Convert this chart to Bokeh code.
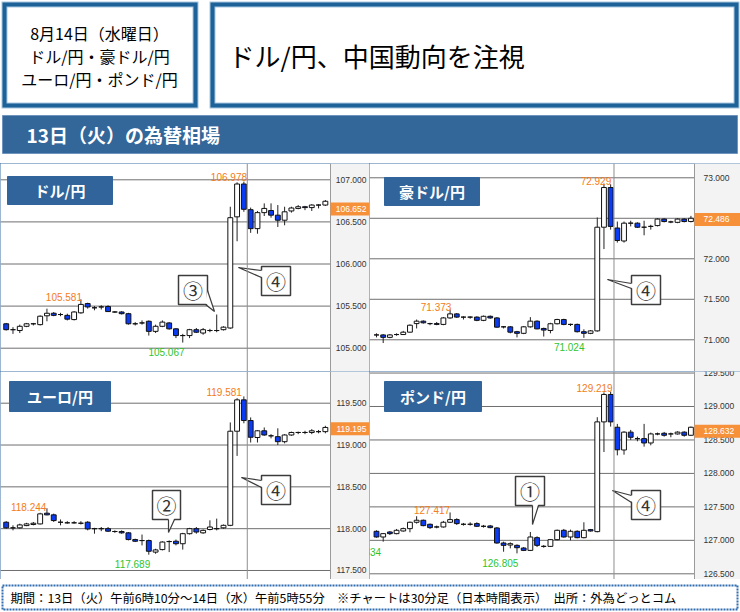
from bokeh.plotting import figure
from bokeh.models import Range1d, Span, ColumnDataSource
from bokeh.layouts import column, row
from bokeh.embed import file_html
from bokeh.resources import INLINE
from bokeh.core.properties import value

JP = "Noto Sans CJK JP"
NUM = "Liberation Sans"
BLUE = "#0b3bf2"
NAVY = "#336699"
ORANGE = "#f6913a"

# ---------------- texts ----------------
header_lines = ["8月14日（水曜日）", "ドル/円・豪ドル/円", "ユーロ/円・ポンド/円"]
headline = "ドル/円、中国動向を注視"
section_title = "13日（火）の為替相場"
footer_text = "期間：13日（火）午前6時10分～14日（水）午前5時55分　※チャートは30分足（日本時間表示）　出所：外為どっとコム"
pair_names = ["ドル/円", "豪ドル/円", "ユーロ/円", "ポンド/円"]

# ---------------- data: 30-minute candles, 13日 6:00 -> 14日 5:30 ----------------
usd_o = [105.29, 105.22, 105.21, 105.26, 105.29, 105.28, 105.385, 105.415, 105.40, 105.39,
         105.34, 105.42, 105.53, 105.48, 105.49, 105.495, 105.43, 105.43, 105.41, 105.29,
         105.30, 105.32, 105.20, 105.26, 105.30, 105.23, 105.15, 105.15, 105.22, 105.18,
         105.21, 105.21, 105.22, 105.24, 106.56, 106.95, 106.645, 106.42, 106.61, 106.635,
         106.58, 106.52, 106.63, 106.66, 106.68, 106.67, 106.70, 106.70]
usd_h = [105.30, 105.25, 105.28, 105.30, 105.30, 105.39, 105.47, 105.43, 105.42, 105.41,
         105.44, 105.581, 105.54, 105.50, 105.51, 105.51, 105.44, 105.44, 105.42, 105.31,
         105.33, 105.33, 105.28, 105.33, 105.31, 105.24, 105.17, 105.23, 105.24, 105.24,
         105.23, 105.40, 105.26, 106.68, 106.97, 106.978, 106.67, 106.63, 106.72, 106.72,
         106.70, 106.68, 106.68, 106.70, 106.69, 106.71, 106.71, 106.76]
usd_l = [105.21, 105.17, 105.18, 105.25, 105.27, 105.27, 105.32, 105.38, 105.38, 105.33,
         105.33, 105.41, 105.47, 105.45, 105.46, 105.43, 105.42, 105.40, 105.28, 105.27,
         105.28, 105.15, 105.18, 105.25, 105.22, 105.12, 105.067, 105.12, 105.18, 105.16,
         105.19, 105.19, 105.21, 105.23, 106.27, 106.62, 106.37, 106.36, 106.57, 106.55,
         106.44, 106.46, 106.61, 106.65, 106.64, 106.63, 106.66, 106.69]
usd_c = [105.22, 105.22, 105.26, 105.29, 105.29, 105.38, 105.415, 105.39, 105.40, 105.345,
         105.43, 105.52, 105.49, 105.48, 105.49, 105.435, 105.43, 105.41, 105.29, 105.29,
         105.30, 105.20, 105.26, 105.31, 105.23, 105.15, 105.15, 105.22, 105.19, 105.22,
         105.21, 105.21, 105.25, 106.55, 106.95, 106.65, 106.42, 106.61, 106.66, 106.58,
         106.52, 106.62, 106.665, 106.68, 106.67, 106.70, 106.70, 106.745]

aud_o = [71.06, 71.06, 71.03, 71.065, 71.065, 71.094, 71.20, 71.23, 71.20, 71.20,
         71.19, 71.27, 71.32, 71.28, 71.28, 71.28, 71.24, 71.29, 71.27, 71.16,
         71.16, 71.10, 71.08, 71.16, 71.23, 71.14, 71.115, 71.198, 71.25, 71.19,
         71.19, 71.10, 71.08, 71.11, 72.39, 72.88, 72.38, 72.22, 72.44, 72.44,
         72.39, 72.40, 72.41, 72.49, 72.455, 72.45, 72.49, 72.46]
aud_h = [71.08, 71.07, 71.07, 71.08, 71.11, 71.19, 71.25, 71.24, 71.21, 71.22,
         71.28, 71.373, 71.33, 71.29, 71.29, 71.29, 71.30, 71.30, 71.28, 71.17,
         71.17, 71.11, 71.17, 71.28, 71.24, 71.15, 71.21, 71.26, 71.26, 71.20,
         71.20, 71.13, 71.12, 72.51, 72.929, 72.92, 72.46, 72.46, 72.47, 72.45,
         72.47, 72.42, 72.50, 72.50, 72.47, 72.50, 72.50, 72.53]
aud_l = [71.03, 70.96, 71.02, 71.05, 71.06, 71.09, 71.14, 71.20, 71.18, 71.18,
         71.18, 71.26, 71.27, 71.25, 71.26, 71.23, 71.23, 71.26, 71.15, 71.14,
         71.08, 71.03, 71.07, 71.15, 71.13, 71.04, 71.08, 71.19, 71.18, 71.17,
         71.09, 71.024, 71.07, 71.10, 72.12, 72.36, 72.20, 72.20, 72.40, 72.38,
         72.29, 72.36, 72.40, 72.45, 72.44, 72.44, 72.45, 72.45]
aud_c = [71.06, 71.03, 71.06, 71.065, 71.094, 71.18, 71.23, 71.21, 71.20, 71.19,
         71.27, 71.32, 71.28, 71.28, 71.28, 71.24, 71.29, 71.27, 71.156, 71.16,
         71.094, 71.08, 71.16, 71.23, 71.135, 71.12, 71.198, 71.25, 71.19, 71.19,
         71.10, 71.08, 71.11, 72.39, 72.88, 72.40, 72.226, 72.44, 72.44, 72.39,
         72.39, 72.40, 72.49, 72.46, 72.455, 72.49, 72.46, 72.50]

eur_o = [118.077, 118.01, 118.01, 118.037, 118.05, 118.057, 118.185, 118.165, 118.077, 118.07,
         118.07, 118.065, 118.077, 118.00, 118.00, 118.00, 117.966, 117.966, 117.95, 117.87,
         117.858, 117.858, 117.72, 117.75, 117.846, 117.85, 117.82, 117.94, 118.00, 117.95,
         117.99, 118.00, 118.01, 118.04, 119.165, 119.54, 119.293, 119.09, 119.17, 119.11,
         119.10, 119.04, 119.12, 119.15, 119.15, 119.15, 119.16, 119.16]
eur_h = [118.09, 118.04, 118.06, 118.07, 118.08, 118.19, 118.244, 118.18, 118.11, 118.09,
         118.09, 118.09, 118.09, 118.01, 118.02, 118.02, 117.98, 117.98, 117.96, 117.88,
         117.93, 117.87, 117.76, 117.85, 117.86, 117.87, 117.95, 118.01, 118.02, 117.99,
         118.10, 118.12, 118.05, 119.27, 119.56, 119.581, 119.33, 119.18, 119.21, 119.13,
         119.20, 119.13, 119.16, 119.16, 119.17, 119.19, 119.18, 119.23]
eur_l = [118.00, 117.98, 118.00, 118.03, 118.04, 118.05, 118.16, 118.08, 118.04, 118.06,
         118.06, 118.05, 117.98, 117.94, 117.97, 117.96, 117.95, 117.94, 117.86, 117.84,
         117.80, 117.689, 117.70, 117.74, 117.72, 117.80, 117.75, 117.93, 117.94, 117.94,
         117.98, 117.98, 118.00, 118.03, 118.87, 119.26, 119.03, 119.03, 119.11, 119.08,
         119.00, 119.02, 119.11, 119.13, 119.13, 119.13, 119.14, 119.14]
eur_c = [118.01, 118.01, 118.045, 118.057, 118.065, 118.177, 118.165, 118.097, 118.077, 118.07,
         118.07, 118.065, 117.997, 118.00, 118.00, 117.97, 117.966, 117.95, 117.87, 117.85,
         117.858, 117.73, 117.746, 117.84, 117.846, 117.82, 117.94, 118.00, 117.96, 117.98,
         118.02, 118.00, 118.04, 119.165, 119.54, 119.293, 119.093, 119.17, 119.12, 119.11,
         119.04, 119.12, 119.15, 119.15, 119.15, 119.17, 119.16, 119.21]

gbp_o = [127.135, 127.05, 127.125, 127.10, 127.14, 127.175, 127.27, 127.30, 127.24, 127.20,
         127.20, 127.27, 127.31, 127.24, 127.24, 127.25, 127.21, 127.215, 127.185, 126.96,
         126.93, 126.925, 126.885, 126.85, 127.04, 126.91, 126.91, 127.01, 127.15, 127.05,
         127.135, 127.04, 127.16, 127.13, 128.77, 129.18, 128.69, 128.35, 128.617, 128.52,
         128.52, 128.455, 128.59, 128.60, 128.59, 128.59, 128.617, 128.57]
gbp_h = [127.15, 127.11, 127.14, 127.17, 127.19, 127.28, 127.36, 127.31, 127.25, 127.22,
         127.29, 127.417, 127.33, 127.26, 127.27, 127.27, 127.23, 127.23, 127.20, 126.98,
         126.97, 126.94, 126.90, 127.125, 127.06, 126.93, 127.02, 127.16, 127.17, 127.16,
         127.15, 127.27, 127.17, 128.84, 129.21, 129.219, 128.74, 128.63, 128.65, 128.55,
         128.74, 128.61, 128.61, 128.62, 128.61, 128.63, 128.63, 128.70]
gbp_l = [127.04, 126.98, 127.08, 127.09, 127.13, 127.12, 127.25, 127.21, 127.17, 127.18,
         127.19, 127.26, 127.23, 127.22, 127.22, 127.20, 127.19, 127.18, 126.95, 126.83,
         126.88, 126.805, 126.84, 126.84, 126.90, 126.89, 126.90, 127.00, 127.04, 127.00,
         127.03, 127.03, 127.13, 127.12, 128.32, 128.70, 128.27, 128.28, 128.50, 128.48,
         128.40, 128.42, 128.57, 128.55, 128.54, 128.58, 128.55, 128.56]
gbp_c = [127.05, 127.10, 127.10, 127.15, 127.175, 127.27, 127.30, 127.22, 127.19, 127.20,
         127.27, 127.31, 127.25, 127.24, 127.24, 127.21, 127.21, 127.19, 126.96, 126.925,
         126.95, 126.89, 126.85, 127.05, 126.925, 126.91, 127.01, 127.15, 127.05, 127.135,
         127.04, 127.15, 127.14, 128.77, 129.18, 128.77, 128.353, 128.617, 128.54, 128.52,
         128.455, 128.59, 128.59, 128.57, 128.59, 128.617, 128.57, 128.69]

last_prices = [106.652, 72.486, 119.195, 128.632]
usd_ticks = [105.0, 105.5, 106.0, 106.5, 107.0]
aud_ticks = [71.0, 71.5, 72.0, 72.5, 73.0]
eur_ticks = [117.5, 118.0, 118.5, 119.0, 119.5]
gbp_ticks = [126.5, 127.0, 127.5, 128.0, 128.5, 129.0, 129.5]

# high / low labels: (value, kind)
usd_marks = [(106.978, "hi"), (105.581, "hi"), (105.067, "lo")]
aud_marks = [(72.929, "hi"), (71.373, "hi"), (71.024, "lo")]
eur_marks = [(119.581, "hi"), (118.244, "hi"), (117.689, "lo")]
gbp_marks = [(129.219, "hi"), (127.417, "hi"), (126.805, "lo"), (126.834, "lo")]

# ---------------- layout / style (not data) ----------------
PH = 208  # panel height (px)
SPEC = [
    dict(o=usd_o, h=usd_h, l=usd_l, c=usd_c, ticks=usd_ticks, marks=usd_marks,
         width=369, xr=(-0.84, 53.5), yr=(104.7233, 107.1936), axis_px=330, lab_px=366, lab_align="right",
         mark_pos=[(32.8, 107.03), (8.5, 105.614), (23.6, 104.952)], mark_align=["center"] * 3,
         title_box=(7, 112, 13, 41),
         callouts=[("③", (178, 207, 112, 141), (214, 148), (207, 127), (205, 141)),
                   ("④", (261, 290, 103, 132), (238, 104), (261, 107), (261, 114))]),
    dict(o=aud_o, h=aud_h, l=aud_l, c=aud_c, ticks=aud_ticks, marks=aud_marks,
         width=371, xr=(-1.046, 54.41), yr=(70.6086, 73.1765), axis_px=325, lab_px=334, lab_align="left",
         mark_pos=[(32.8, 72.958), (8.9, 71.411), (28.8, 70.917)], mark_align=["center"] * 3,
         title_box=(15, 110, 14, 42),
         callouts=[("④", (262, 291, 112, 141), (238, 116), (262, 120), (262, 125))]),
    dict(o=eur_o, h=eur_h, l=eur_l, c=eur_c, ticks=eur_ticks, marks=eur_marks,
         width=369, xr=(-0.84, 53.5), yr=(117.3924, 119.879), axis_px=330, lab_px=366, lab_align="right",
         mark_pos=[(32.1, 119.628), (3.3, 118.264), (18.6, 117.579)], mark_align=["center"] * 3,
         title_box=(9, 110, 10, 40),
         callouts=[("②", (152, 180, 119, 148), (168, 161), (168, 148), (174, 148)),
                   ("④", (261, 290, 104, 133), (241, 106), (261, 109), (261, 116))]),
    dict(o=gbp_o, h=gbp_h, l=gbp_l, c=gbp_c, ticks=gbp_ticks, marks=gbp_marks,
         width=371, xr=(-1.046, 54.41), yr=(126.4148, 129.523), axis_px=325, lab_px=334, lab_align="left",
         mark_pos=[(32.6, 129.279), (8.3, 127.458), (18.5, 126.667), (0.7, 126.825)],
         mark_align=["center", "center", "center", "right"],
         title_box=(15, 112, 10, 40),
         callouts=[("①", (146, 175, 105, 134), (163, 153), (163, 134), (169, 134)),
                   ("④", (262, 291, 119, 148), (243, 119), (262, 124), (262, 131))]),
]


def make_panel(name, last, s):
    x0, x1 = s["xr"]
    y0, y1 = s["yr"]
    W = s["width"]

    def cx(r):
        return x0 + r / W * (x1 - x0)

    def cy(r):
        return y1 - r / PH * (y1 - y0)

    dy = (y1 - y0) / PH  # data units per pixel
    xa = cx(s["axis_px"])

    p = figure(width=W, height=PH, x_range=Range1d(x0, x1), y_range=Range1d(y0, y1),
               x_axis_location=None, y_axis_location=None, min_border=0,
               toolbar_location=None, tools="", output_backend="svg",
               background_fill_color="white", border_fill_color="white",
               outline_line_color=None)
    p.styles = {"outline": "2px solid #3a6da3", "outline-offset": "-2px"}
    p.xgrid.visible = False
    p.ygrid.visible = False

    ticks = s["ticks"]
    # horizontal grid lines in the price area
    p.segment(x0=[x0] * len(ticks), x1=[xa] * len(ticks), y0=ticks, y1=ticks,
              line_color="#6f6f6f", line_width=1)
    p.add_layout(Span(location=35.5, dimension="height", line_color="#8e8e8e", line_width=1))

    o, h, l, c = s["o"], s["h"], s["l"], s["c"]
    idx = list(range(len(o)))
    src = ColumnDataSource(dict(
        x=idx, h=h, l=l,
        top=[max(a, b) for a, b in zip(o, c)],
        bot=[min(a, b) for a, b in zip(o, c)],
        col=["white" if b >= a else BLUE for a, b in zip(o, c)]))
    p.segment(x0="x", y0="l", x1="x", y1="h", source=src, line_color="#222222", line_width=1)
    p.vbar(x="x", width=0.72, top="top", bottom="bot", fill_color="col",
           line_color="#111111", line_width=1, source=src)

    # high/low labels
    for (v, kind), (mx, my), al in zip(s["marks"], s["mark_pos"], s["mark_align"]):
        p.text(x=[mx], y=[my], text=[f"{v:.3f}"], text_align=al, text_baseline="middle",
               text_font=value(NUM), text_font_size="10px",
               text_color="#f47b20" if kind == "hi" else "#2ec42e")

    # pair title box
    bx0, bx1, by0, by1 = s["title_box"]
    p.quad(left=[cx(bx0)], right=[cx(bx1)], top=[cy(by0)], bottom=[cy(by1)],
           fill_color="#30649a", line_color="#30649a")
    p.text(x=[cx((bx0 + bx1) / 2)], y=[cy((by0 + by1) / 2)], text=[name],
           text_align="center", text_baseline="middle", text_font=value(JP),
           text_font_style="bold", text_font_size="15px", text_color="white")

    # callouts
    for lab, (a0, a1, b0, b1), tip, base1, base2 in s["callouts"]:
        p.quad(left=[cx(a0)], right=[cx(a1)], top=[cy(b0)], bottom=[cy(b1)],
               fill_color="white", line_color="#3c3c3c", line_width=1.5)
        inset = [(base1[0] + (1.5 if base1[0] == a0 else 0), base1[1] + (-1.5 if base1[1] == b1 else 0)),
                 (base2[0] + (1.5 if base2[0] == a0 else 0), base2[1] + (-1.5 if base2[1] == b1 else 0))]
        p.patch(x=[cx(inset[0][0]), cx(tip[0]), cx(inset[1][0])],
                y=[cy(inset[0][1]), cy(tip[1]), cy(inset[1][1])],
                fill_color="white", line_color=None)
        p.line(x=[cx(base1[0]), cx(tip[0]), cx(base2[0])],
               y=[cy(base1[1]), cy(tip[1]), cy(base2[1])],
               line_color="#3c3c3c", line_width=1.2)
        p.text(x=[cx((a0 + a1) / 2)], y=[cy((b0 + b1) / 2)], text=[lab],
               text_align="center", text_baseline="middle", text_font=value(JP),
               text_font_size="20px", text_color="#333333")

    # price scale area on the right
    p.quad(left=[xa], right=[x1], top=[y1], bottom=[y0], fill_color="#f3f3f3", line_color=None)
    p.segment(x0=[xa], x1=[xa], y0=[y0], y1=[y1], line_color="#9a9a9a", line_width=1)
    lx = cx(s["lab_px"])
    p.text(x=[lx] * len(ticks), y=ticks, text=[f"{t:.3f}" for t in ticks],
           text_align=s["lab_align"], text_baseline="middle", text_font=value(NUM),
           text_font_size="8.5px", text_color="#333333")
    # current price tag
    p.quad(left=[xa], right=[x1], top=[last + 6.5 * dy], bottom=[last - 6.5 * dy],
           fill_color=ORANGE, line_color=None)
    p.text(x=[lx], y=[last], text=[f"{last:.3f}"], text_align=s["lab_align"], text_baseline="middle",
           text_font=value(NUM), text_font_size="8.5px", text_color="white")
    return p


panels = [make_panel(n, lp, s) for n, lp, s in zip(pair_names, last_prices, SPEC)]

# ---------------- header ----------------
hdr = figure(width=740, height=163, x_range=Range1d(0, 740), y_range=Range1d(163, 0),
             x_axis_location=None, y_axis_location=None, min_border=0,
             toolbar_location=None, tools="", output_backend="svg",
             outline_line_color=None, background_fill_color="white", border_fill_color="white")
hdr.xgrid.visible = False
hdr.ygrid.visible = False
for (l0, t0, r0, b0) in [(1, 1, 198, 108), (209, 1, 739, 108)]:
    hdr.quad(left=[l0], right=[r0], top=[t0], bottom=[b0], fill_color="#a9c6de", line_color=None)
    hdr.quad(left=[l0 + 1], right=[r0 - 1], top=[t0 + 1], bottom=[b0 - 1], fill_color="#1d6399", line_color=None)
    hdr.quad(left=[l0 + 5], right=[r0 - 5], top=[t0 + 5], bottom=[b0 - 5], fill_color="#a9c6de", line_color=None)
    hdr.quad(left=[l0 + 6], right=[r0 - 6], top=[t0 + 6], bottom=[b0 - 6], fill_color="white", line_color=None)
hdr.text(x=[99, 99, 99], y=[32, 55, 78], text=header_lines, text_align="center",
         text_baseline="middle", text_font=value(JP), text_font_size="16px", text_color="black")
hdr.text(x=[228], y=[55], text=[headline], text_align="left", text_baseline="middle",
         text_font=value(JP), text_font_size="26px", text_color="black")
hdr.quad(left=[2], right=[737], top=[115], bottom=[153], fill_color=NAVY, line_color="#6f95bf")
hdr.text(x=[26], y=[134], text=[section_title], text_align="left", text_baseline="middle",
         text_font=value(JP), text_font_size="19px", text_font_style="bold", text_color="white")

# ---------------- footer ----------------
ftr = figure(width=740, height=33, x_range=Range1d(0, 740), y_range=Range1d(612, 579),
             x_axis_location=None, y_axis_location=None, min_border=0,
             toolbar_location=None, tools="", output_backend="svg",
             outline_line_color=None, background_fill_color="white", border_fill_color="white")
ftr.xgrid.visible = False
ftr.ygrid.visible = False
ftr.quad(left=[2], right=[737], top=[585], bottom=[609], fill_color=None,
         line_color="#2f6db0", line_width=2, line_dash="2 1")
ftr.text(x=[10], y=[597], text=[footer_text], text_align="left", text_baseline="middle",
         text_font=value(JP), text_font_size="12.3px", text_color="black")

layout = column(hdr, row(panels[0], panels[1]), row(panels[2], panels[3]), ftr)
open("out.html", "w").write(file_html(layout, INLINE))
